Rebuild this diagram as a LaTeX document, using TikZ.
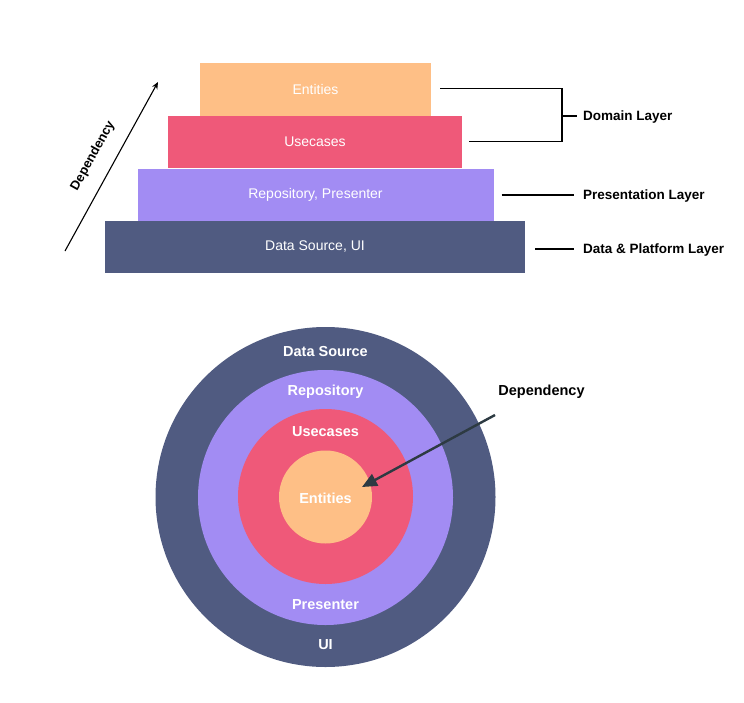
\documentclass[tikz,border=0pt]{standalone}
\usepackage{fontspec}
\setmainfont{Liberation Sans}
\usetikzlibrary{arrows.meta}
\definecolor{cOrange}{RGB}{254,191,134}
\definecolor{cPink}{RGB}{239,89,121}
\definecolor{cPurple}{RGB}{162,140,243}
\definecolor{cNavy}{RGB}{80,91,129}
\definecolor{cArrow}{RGB}{45,58,66}
\begin{document}
\begin{tikzpicture}[x=1pt,y=-1pt,
  layerbox/.style={draw=none, inner sep=0pt, text=white,
    font=\fontsize{14}{16}\selectfont},
  ring/.style={circle, draw=none, inner sep=0pt},
  ringlabel/.style={text=white, inner sep=0pt,
    font=\bfseries\fontsize{14.5}{17}\selectfont},
  sidelabel/.style={anchor=west, inner sep=0pt, text=black,
    font=\bfseries\fontsize{13.5}{16}\selectfont},
  sideline/.style={draw=black, line width=1.3pt}
]
\useasboundingbox[fill=white] (0,0) rectangle (744,702);

% ---- stacked layers ----
\node[layerbox, fill=cOrange, minimum width=231pt, minimum height=52.5pt] (ent) at (315.5,89.5) {Entities};
\node[layerbox, fill=cPink, minimum width=294pt, minimum height=52pt] (use) at (315,142) {Usecases};
\node[layerbox, fill=cPurple, minimum width=356pt, minimum height=52pt] (rep) at (315.5,194.5) {Repository, Presenter};
\node[layerbox, fill=cNavy, minimum width=420pt, minimum height=52pt] (ds) at (315,247) {Data Source, UI};

% ---- side labels ----
\node[sidelabel] (dom) at (583,117.5) {Domain Layer};
\node[sidelabel] (pres) at (583,196.5) {Presentation Layer};
\node[sidelabel] (plat) at (583,250.5) {Data \& Platform Layer};

\coordinate (brTop) at (562,88.5);
\coordinate (brBot) at (562,141.5);
\coordinate (brMid) at (562,116);
\coordinate (presY) at (0,195);
\coordinate (platY) at (0,249);
\draw[sideline] ([xshift=9pt]ent.east |- brTop) -- (brTop) -- (brBot) -- ([xshift=7pt]use.east |- brBot);
\draw[sideline] (brMid) -- ([xshift=-6pt]dom.west |- brMid);
\draw[sideline] ([xshift=8pt]rep.east |- presY) -- ([xshift=-9pt]pres.west |- presY);
\draw[sideline] ([xshift=10pt]ds.east |- platY) -- ([xshift=-9pt]plat.west |- platY);

% ---- dependency arrow (top) ----
\coordinate (depA) at (65,251);
\coordinate (depB) at (158,82);
\draw[black, line width=1.1pt, -{Stealth[length=7pt,width=6pt]}] (depA) -- (depB);
\node[rotate=61, inner sep=0pt, font=\bfseries\fontsize{13}{15}\selectfont] (deplbl) at (93,156) {Dependency};

% ---- concentric circles ----
\node[ring, fill=cNavy, minimum size=340pt] (c1) at (325.5,497) {};
\node[ring, fill=cPurple, minimum size=255pt] (c2) at (325.5,497.5) {};
\node[ring, fill=cPink, minimum size=175pt] (c3) at (325.5,496.5) {};
\node[ring, fill=cOrange, minimum size=93pt] (c4) at (325.5,497) {};

\node[ringlabel] (lds) at (325.5,351.5) {Data Source};
\node[ringlabel] (lrep) at (325.5,391.5) {Repository};
\node[ringlabel] (luse) at (325.5,432) {Usecases};
\node[ringlabel] (lent) at (325.5,498) {Entities};
\node[ringlabel] (lpre) at (325.5,605) {Presenter};
\node[ringlabel] (lui) at (325.5,644.5) {UI};

% ---- dependency arrow (circles) ----
\node[inner sep=0pt, font=\bfseries\fontsize{14.5}{17}\selectfont] (dep2) at (541.5,391.5) {Dependency};
\coordinate (arrS) at (495,415);
\coordinate (arrE) at (362,487);
\draw[cArrow, line width=2.4pt, -{Triangle[length=15pt,width=13pt]}] (arrS) -- (arrE);
\end{tikzpicture}
\end{document}
